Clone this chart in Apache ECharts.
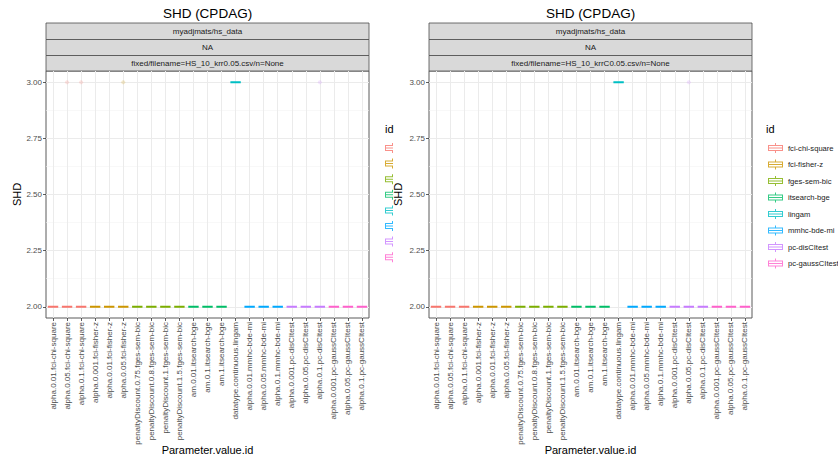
<!DOCTYPE html>
<html>
<head>
<meta charset="utf-8">
<script src="https://cdn.jsdelivr.net/npm/echarts@6/dist/echarts.min.js"></script>
<style>html,body{margin:0;padding:0;background:#fff;}#chart{width:838px;height:459px;}</style>
</head>
<body>
<div id="chart"></div>
<script>
// ---------- data ----------
const categories = [
  'alpha.0.01.fci-chi-square','alpha.0.05.fci-chi-square','alpha.0.1.fci-chi-square',
  'alpha.0.001.fci-fisher-z','alpha.0.01.fci-fisher-z','alpha.0.05.fci-fisher-z',
  'penaltyDiscount.0.75.fges-sem-bic','penaltyDiscount.0.8.fges-sem-bic','penaltyDiscount.1.fges-sem-bic','penaltyDiscount.1.5.fges-sem-bic',
  'am.0.01.itsearch-bge','am.0.1.itsearch-bge','am.1.itsearch-bge',
  'datatype.continuous.lingam',
  'alpha.0.01.mmhc-bde-mi','alpha.0.05.mmhc-bde-mi','alpha.0.1.mmhc-bde-mi',
  'alpha.0.001.pc-disCItest','alpha.0.05.pc-disCItest','alpha.0.1.pc-disCItest',
  'alpha.0.001.pc-gaussCItest','alpha.0.05.pc-gaussCItest','alpha.0.1.pc-gaussCItest'
];
const categoryIds = [
  'fci-chi-square','fci-chi-square','fci-chi-square',
  'fci-fisher-z','fci-fisher-z','fci-fisher-z',
  'fges-sem-bic','fges-sem-bic','fges-sem-bic','fges-sem-bic',
  'itsearch-bge','itsearch-bge','itsearch-bge',
  'lingam',
  'mmhc-bde-mi','mmhc-bde-mi','mmhc-bde-mi',
  'pc-disCItest','pc-disCItest','pc-disCItest',
  'pc-gaussCItest','pc-gaussCItest','pc-gaussCItest'
];
const ids = ['fci-chi-square','fci-fisher-z','fges-sem-bic','itsearch-bge','lingam','mmhc-bde-mi','pc-disCItest','pc-gaussCItest'];
// box stats per category: [min, Q1, median, Q3, max]
const boxesLeft = [
  [2,2,2,2,2],[2,2,2,2,2],[2,2,2,2,2],
  [2,2,2,2,2],[2,2,2,2,2],[2,2,2,2,2],
  [2,2,2,2,2],[2,2,2,2,2],[2,2,2,2,2],[2,2,2,2,2],
  [2,2,2,2,2],[2,2,2,2,2],[2,2,2,2,2],
  [3,3,3,3,3],
  [2,2,2,2,2],[2,2,2,2,2],[2,2,2,2,2],
  [2,2,2,2,2],[2,2,2,2,2],[2,2,2,2,2],
  [2,2,2,2,2],[2,2,2,2,2],[2,2,2,2,2]
];
const boxesRight = [
  [2,2,2,2,2],[2,2,2,2,2],[2,2,2,2,2],
  [2,2,2,2,2],[2,2,2,2,2],[2,2,2,2,2],
  [2,2,2,2,2],[2,2,2,2,2],[2,2,2,2,2],[2,2,2,2,2],
  [2,2,2,2,2],[2,2,2,2,2],[2,2,2,2,2],
  [3,3,3,3,3],
  [2,2,2,2,2],[2,2,2,2,2],[2,2,2,2,2],
  [2,2,2,2,2],[2,2,2,2,2],[2,2,2,2,2],
  [2,2,2,2,2],[2,2,2,2,2],[2,2,2,2,2]
];
const outliersLeft = [
  ['alpha.0.05.fci-chi-square', 3],
  ['alpha.0.1.fci-chi-square', 3],
  ['alpha.0.05.fci-fisher-z', 3],
  ['alpha.0.1.pc-disCItest', 3]
];
const outliersRight = [
  ['alpha.0.05.pc-disCItest', 3]
];
const yTicks = [2.00, 2.25, 2.50, 2.75, 3.00];
const yMinorTicks = [2.125, 2.375, 2.625, 2.875];
const plotTitle = 'SHD (CPDAG)';
const stripRows = ['myadjmats/hs_data', 'NA'];
const panelFiles = ['fixed/filename=HS_10_krr0.05.csv/n=None', 'fixed/filename=HS_10_krrC0.05.csv/n=None'];
const xTitle = 'Parameter.value.id';
const yTitle = 'SHD';
const legendTitle = 'id';

// ---------- styling ----------
const palette = ['#F8766D','#CD9600','#7CAE00','#00BE67','#00BFC4','#00A9FF','#C77CFF','#FF61CC'];
const colorOf = id => palette[ids.indexOf(id)];
function hexA(hex, a) {
  const n = parseInt(hex.slice(1), 16);
  return 'rgba(' + (n >> 16) + ',' + ((n >> 8) & 255) + ',' + (n & 255) + ',' + a + ')';
}
const FONT = '"Liberation Sans", Arial, Helvetica, sans-serif';
const panels = [
  { left: 46, width: 323, nameGap: 24 },
  { left: 429, width: 323, nameGap: 26 }
];
const PTOP = 71, PH = 247;
const yMin = 1.95, yMax = 3.05;

const fullIcon = 'path://M0 20L150 20L150 30L0 30Z M0 70L150 70L150 80L0 80Z M0 20L10 20L10 80L0 80Z M140 20L150 20L150 80L140 80Z M0 45L150 45L150 55L0 55Z M70 0L80 0L80 20L70 20Z M70 80L80 80L80 100L70 100Z';
const halfIcon = 'path://M0 20L80 20L80 30L0 30Z M0 70L80 70L80 80L0 80Z M0 20L10 20L10 80L0 80Z M0 45L80 45L80 55L0 55Z M70 0L80 0L80 20L70 20Z M70 80L80 80L80 100L70 100Z';

const grids = panels.map(p => ({
  left: p.left, top: PTOP, width: p.width, height: PH,
  containLabel: false, outerBoundsMode: 'none',
  show: true, borderColor: '#5a5a5a', borderWidth: 1, backgroundColor: 'transparent'
}));

const xAxes = panels.map((p, i) => ({
  type: 'category', gridIndex: i, data: categories, boundaryGap: true,
  name: xTitle, nameLocation: 'middle', nameGap: 126, nameMoveOverlap: false,
  nameTextStyle: { fontSize: 11, color: '#000', fontFamily: FONT },
  axisLine: { show: false },
  axisTick: { show: true, alignWithLabel: true, length: 3, lineStyle: { color: '#333', width: 0.8 } },
  axisLabel: { rotate: 90, fontSize: 8, color: '#4d4d4d', fontFamily: FONT, interval: 0, margin: 4 },
  splitLine: { show: true, alignWithLabel: true, interval: 0, lineStyle: { color: '#ebebeb', width: 1 } }
}));

const yAxes = [];
panels.forEach((p, i) => {
  yAxes.push({
    type: 'value', gridIndex: i, min: yMin, max: yMax,
    name: yTitle, nameLocation: 'middle', nameGap: p.nameGap, nameRotate: 90, nameMoveOverlap: false,
    nameTextStyle: { fontSize: 11, color: '#000', fontFamily: FONT },
    axisLine: { show: false },
    axisTick: { show: true, length: 3, customValues: yTicks, lineStyle: { color: '#333', width: 0.8 } },
    axisLabel: { customValues: yTicks, fontSize: 8, color: '#4d4d4d', fontFamily: FONT, margin: 4,
      formatter: v => Number(v).toFixed(2) },
    splitLine: { show: true, lineStyle: { color: '#ebebeb', width: 1 } }
  });
});
panels.forEach((p, i) => {
  yAxes.push({
    type: 'value', gridIndex: i, min: yMin, max: yMax,
    axisLine: { show: false },
    axisTick: { show: false, customValues: yMinorTicks },
    axisLabel: { show: false, customValues: yMinorTicks },
    splitLine: { show: true, lineStyle: { color: '#f3f3f3', width: 0.6 } }
  });
});

const series = [];
[boxesLeft, boxesRight].forEach((boxes, i) => {
  series.push({
    type: 'boxplot', xAxisIndex: i, yAxisIndex: i, boxWidth: [10.4, 10.4],
    silent: true, z: 3,
    data: boxes.map((b, k) => ({
      value: b,
      itemStyle: { color: '#ffffff', borderColor: colorOf(categoryIds[k]), borderWidth: 2 }
    }))
  });
});
[outliersLeft, outliersRight].forEach((outs, i) => {
  series.push({
    type: 'scatter', xAxisIndex: i, yAxisIndex: i, symbolSize: 4, silent: true, z: 4,
    data: outs.map(o => ({
      value: o,
      itemStyle: { color: hexA(colorOf(categoryIds[categories.indexOf(o[0])]), 0.25) }
    }))
  });
});
// legend carriers (no data)
ids.forEach((id, k) => {
  series.push({ type: 'scatter', name: id, xAxisIndex: 1, yAxisIndex: 1, data: [], itemStyle: { color: palette[k] } });
});

const legendCommon = {
  orient: 'vertical', top: 143, padding: 0, itemGap: 6.5, itemHeight: 10,
  selectedMode: false, textStyle: { fontSize: 7.6, color: '#1a1a1a', fontFamily: FONT, padding: 0 }
};
const legends = [
  Object.assign({}, legendCommon, {
    left: 768, itemWidth: 15,
    data: ids.map((id, k) => ({ name: id, icon: fullIcon, itemStyle: { color: palette[k], borderWidth: 0 } }))
  }),
  Object.assign({}, legendCommon, {
    left: 385, itemWidth: 8, itemGap: 5.6, formatter: () => '',
    data: ids.map((id, k) => ({ name: id, icon: halfIcon, itemStyle: { color: palette[k], borderWidth: 0 } }))
  })
];

const graphics = [];
panels.forEach((p, i) => {
  const cx = p.left + p.width / 2;
  graphics.push({ type: 'text', x: cx, y: 13, style: { text: plotTitle, fontSize: 13.5, fill: '#000', fontFamily: FONT, align: 'center', verticalAlign: 'middle', textAlign: 'center', textVerticalAlign: 'middle' } });
  const rows = stripRows.concat([panelFiles[i]]);
  const tops = [23, 39.5, 55.5, 71];
  rows.forEach((t, r) => {
    graphics.push({ type: 'rect', shape: { x: p.left, y: tops[r], width: p.width, height: tops[r + 1] - tops[r] },
      style: { fill: '#d9d9d9', stroke: '#4d4d4d', lineWidth: 0.8 } });
    graphics.push({ type: 'text', x: cx, y: (tops[r] + tops[r + 1]) / 2,
      style: { text: t, fontSize: 8, fill: '#1a1a1a', fontFamily: FONT, align: 'center', verticalAlign: 'middle', textAlign: 'center', textVerticalAlign: 'middle' } });
  });
});
graphics.push({ type: 'text', x: 385, y: 129, style: { text: legendTitle, fontSize: 11, fill: '#000', fontFamily: FONT, verticalAlign: 'middle', textVerticalAlign: 'middle' } });
graphics.push({ type: 'text', x: 766, y: 129, style: { text: legendTitle, fontSize: 11, fill: '#000', fontFamily: FONT, verticalAlign: 'middle', textVerticalAlign: 'middle' } });

const chart = echarts.init(document.getElementById('chart'), null, { renderer: 'svg' });
chart.setOption({
  animation: false,
  backgroundColor: '#ffffff',
  textStyle: { fontFamily: FONT },
  grid: grids,
  xAxis: xAxes,
  yAxis: yAxes,
  legend: legends,
  series: series,
  graphic: graphics
});
</script>
</body>
</html>
